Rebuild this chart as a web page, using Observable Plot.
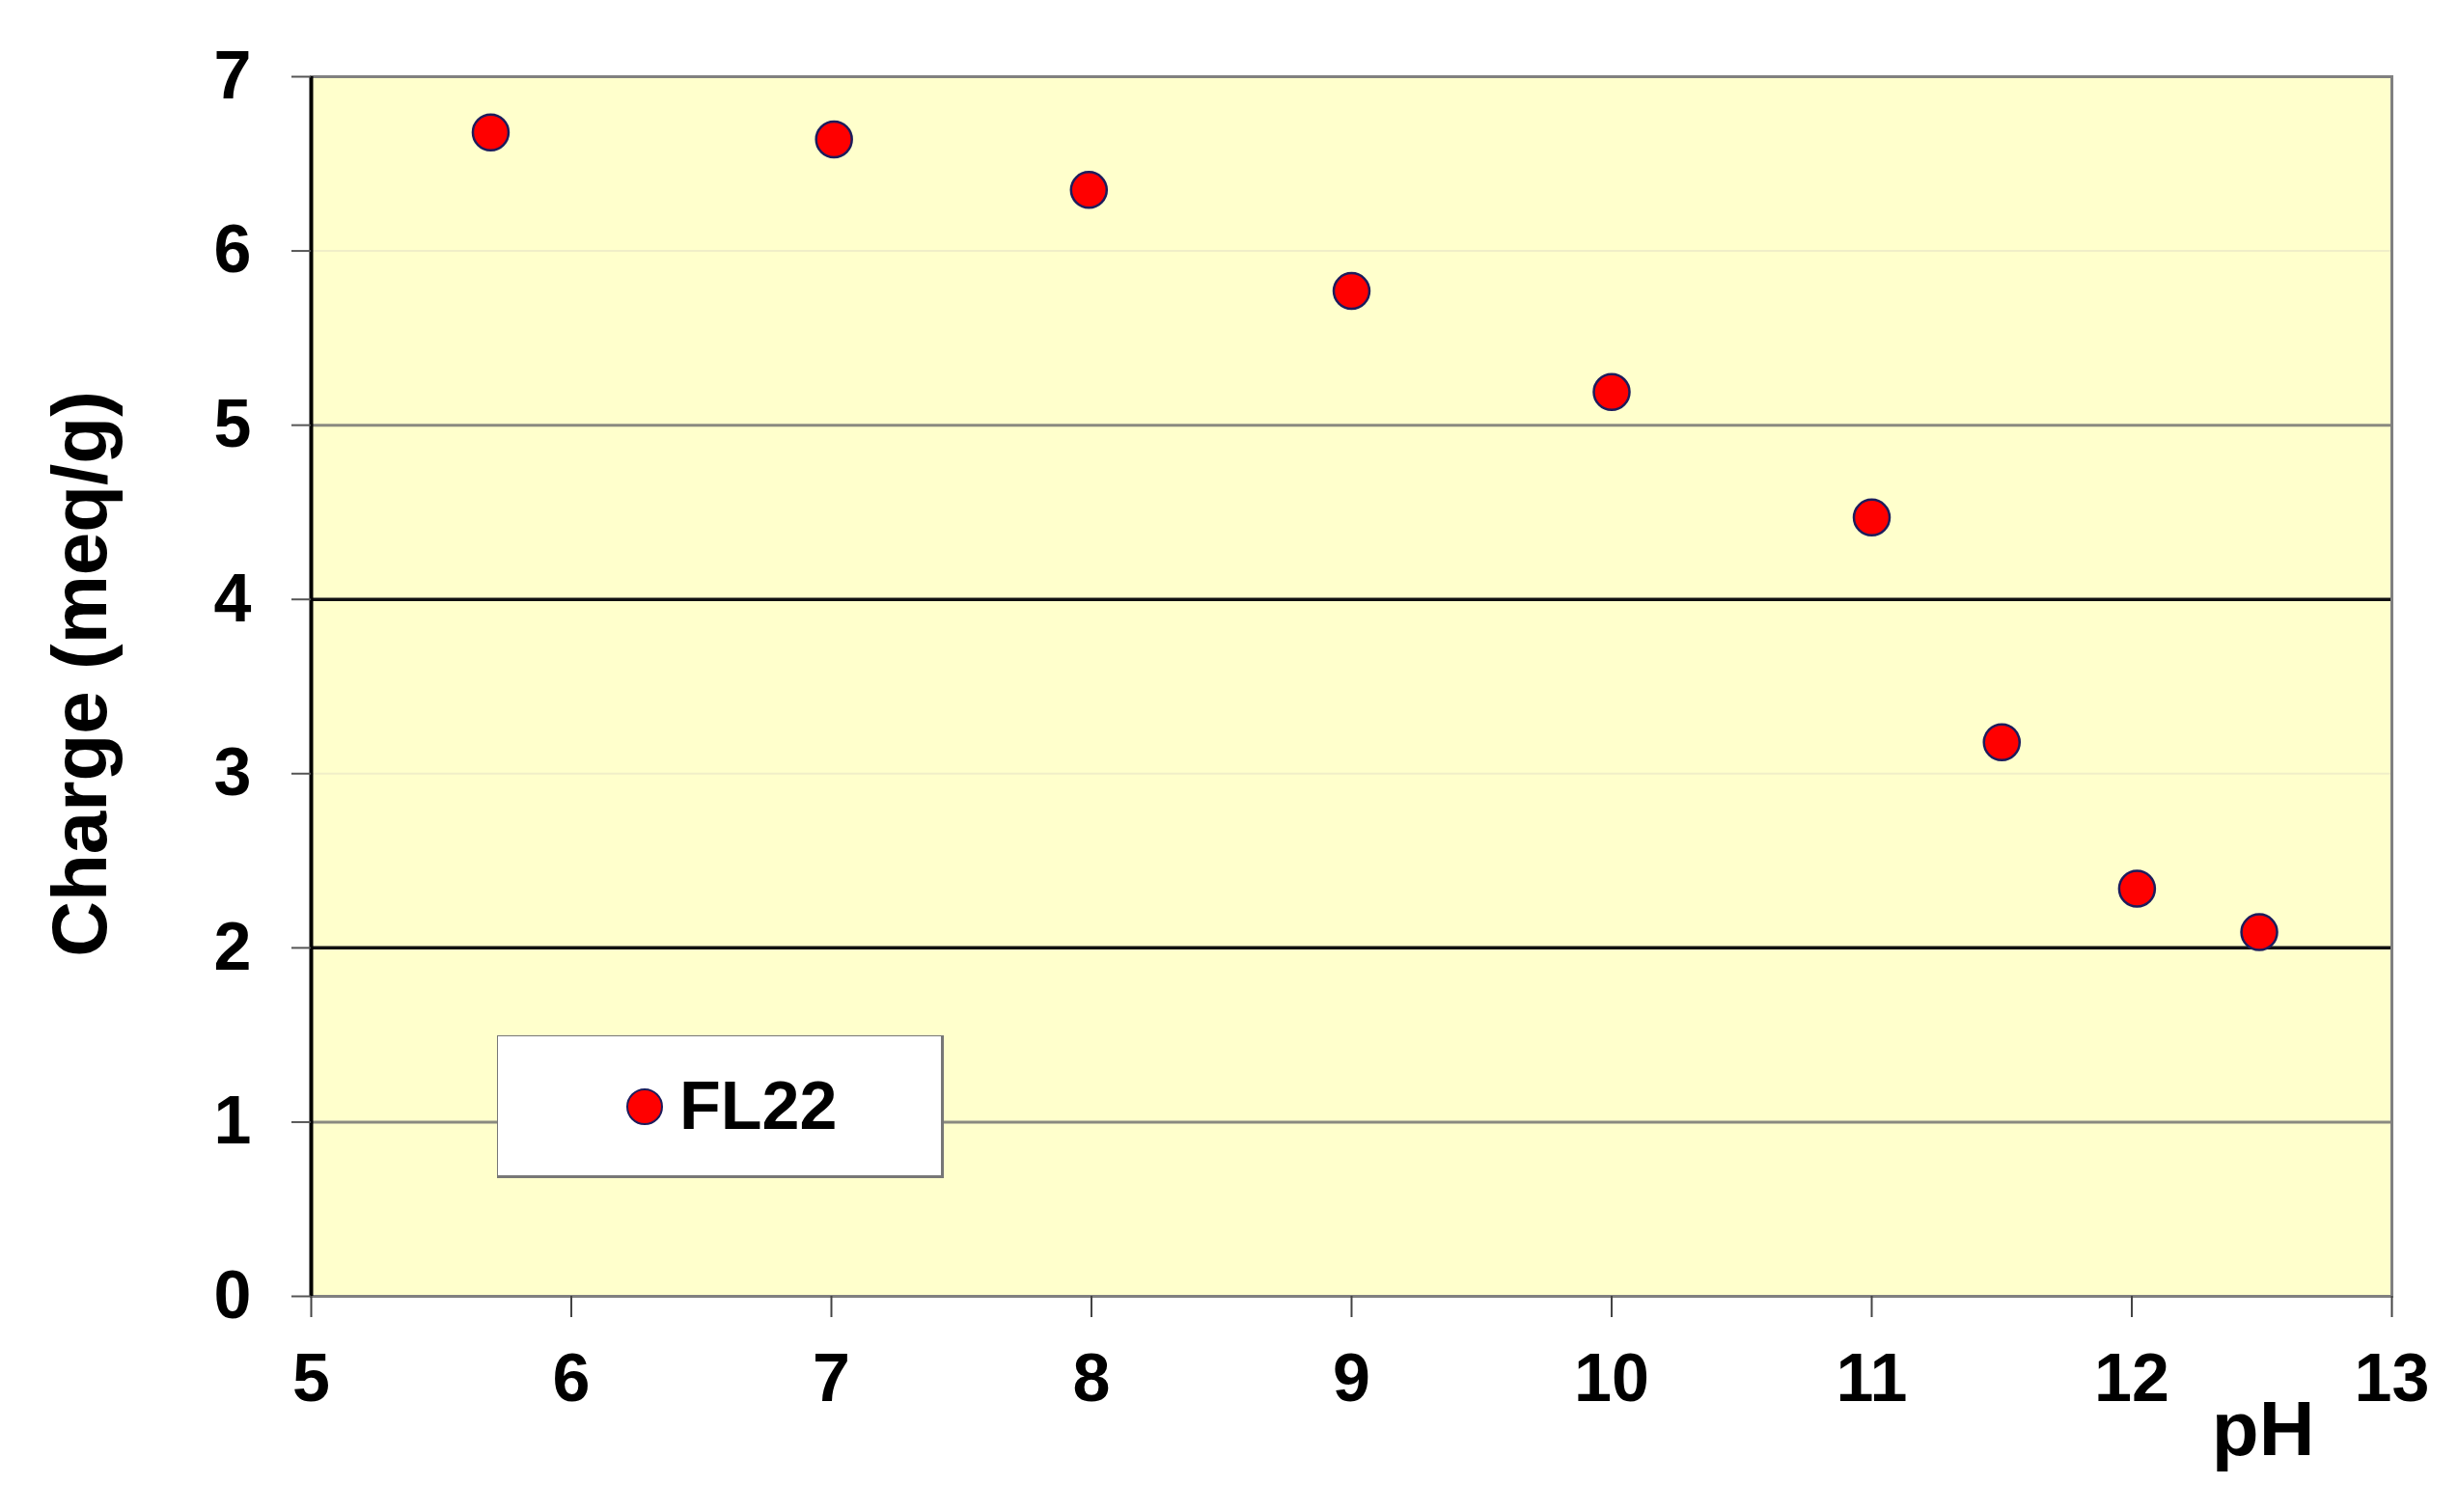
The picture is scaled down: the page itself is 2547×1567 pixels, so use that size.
<!DOCTYPE html>
<html>
<head>
<meta charset="utf-8">
<script src="https://cdn.jsdelivr.net/npm/d3@7"></script>
<script src="https://cdn.jsdelivr.net/npm/@observablehq/plot@0.6"></script>
<style>
  html, body { margin: 0; padding: 0; background: #ffffff; }
  #wrap { position: relative; width: 2547px; height: 1567px; }
  #legend {
    position: absolute; left: 515px; top: 1073px; width: 459px; height: 144px;
    background: #ffffff; border: 1.5px solid #777; border-right: 3px solid #777; border-bottom: 3px solid #777;
    font-family: "Liberation Sans", Arial, sans-serif; font-weight: bold; font-size: 70px; color: #000;
  }
  #legend .dot {
    position: absolute; left: 133px; top: 54px; width: 34px; height: 34px; border-radius: 50%;
    background: #ff0000; border: 2.5px solid #1c1c5c;
  }
  #legend .lab { position: absolute; left: 188px; top: 32px; line-height: 80px; }
</style>
</head>
<body>
<div id="wrap"></div>
<script>
// Data
const seriesName = "FL22";
const pHValues = [5.69, 7.01, 7.99, 9.0, 10.0, 11.0, 11.5, 12.02, 12.49];
const chargeValues = [6.68, 6.64, 6.35, 5.77, 5.19, 4.47, 3.18, 2.34, 2.09];
const xTicks = [5, 6, 7, 8, 9, 10, 11, 12, 13];
const yTicks = [0, 1, 2, 3, 4, 5, 6, 7];
const xLabel = "pH";
const yLabel = "Charge (meq/g)";

const data = pHValues.map((p, i) => ({pH: p, charge: chargeValues[i]}));

const darkGrid = yTicks.filter(v => v === 2 || v === 4);
const midGrid = yTicks.filter(v => v === 1 || v === 5);
const faintGrid = yTicks.filter(v => v === 3 || v === 6);

const chart = Plot.plot({
  width: 2547,
  height: 1567,
  marginLeft: 322,
  marginRight: 69,
  marginTop: 79,
  marginBottom: 224,
  style: {fontFamily: "'Liberation Sans', Arial, sans-serif", fontWeight: "bold", fontSize: "70px", color: "#000", background: "#fff", overflow: "visible"},
  x: {domain: [5, 13]},
  y: {domain: [0, 7]},
  marks: [
    Plot.frame({fill: "#ffffcc", stroke: null}),
    Plot.ruleY(faintGrid, {stroke: "#f0eec8", strokeWidth: 2}),
    Plot.ruleY(midGrid, {stroke: "#8a8a80", strokeWidth: 3}),
    Plot.ruleY(darkGrid, {stroke: "#111", strokeWidth: 3.5}),
    Plot.frame({stroke: "#808080", strokeWidth: 3}),
    Plot.ruleX([xTicks[0]], {stroke: "#000", strokeWidth: 4}),
    Plot.axisX({ticks: xTicks, tickSize: 22, tickPadding: 37, tickFormat: d3.format("d"), label: null, stroke: "#444", strokeWidth: 2}),
    Plot.axisY({ticks: yTicks, tickSize: 20, tickPadding: 42, tickFormat: d3.format("d"), label: null, stroke: "#555", strokeWidth: 2}),
    Plot.dot(data, {x: "pH", y: "charge", r: 18.5, fill: "#ff0000", stroke: "#1c1c5c", strokeWidth: 2.5}),
    Plot.text([xLabel], {frameAnchor: "bottom-right", text: d => d, dx: -80, dy: 164, textAnchor: "end", lineAnchor: "bottom", fontSize: 80, fontWeight: "bold"}),
    Plot.text([yLabel], {frameAnchor: "left", text: d => d, rotate: -90, dx: -238, dy: -13, textAnchor: "middle", lineAnchor: "middle", fontSize: 80, fontWeight: "bold"})
  ]
});

const wrap = document.getElementById("wrap");
wrap.appendChild(chart);
const legend = document.createElement("div");
legend.id = "legend";
legend.innerHTML = '<div class="dot"></div><div class="lab"></div>';
legend.querySelector(".lab").textContent = seriesName;
wrap.appendChild(legend);
</script>
</body>
</html>
